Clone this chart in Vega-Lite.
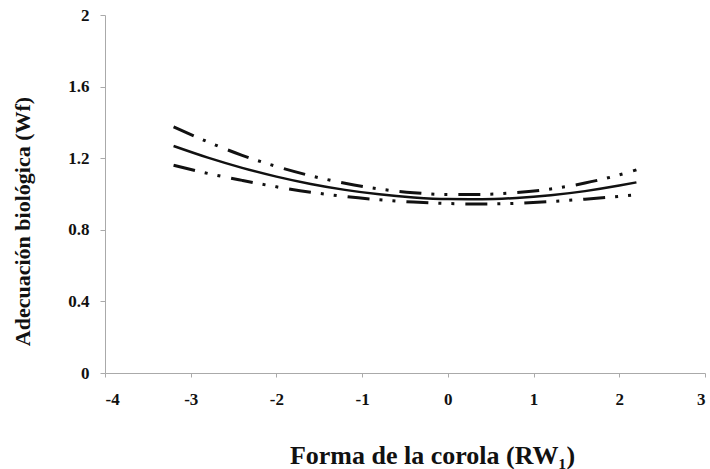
{
  "$schema": "https://vega.github.io/schema/vega-lite/v6.json",
  "autosize": "none",
  "width": 600,
  "height": 358,
  "padding": {"left": 105, "top": 15, "right": 5, "bottom": 96},
  "background": "white",
  "config": {"view": {"stroke": null}, "font": "Liberation Serif"},
  "data": {"values": [
    {"x": -3.2, "y": 1.268, "s": "fit"},
    {"x": -2.8, "y": 1.203, "s": "fit"},
    {"x": -2.4, "y": 1.146, "s": "fit"},
    {"x": -2.0, "y": 1.097, "s": "fit"},
    {"x": -1.6, "y": 1.056, "s": "fit"},
    {"x": -1.2, "y": 1.023, "s": "fit"},
    {"x": -0.8, "y": 0.998, "s": "fit"},
    {"x": -0.4, "y": 0.981, "s": "fit"},
    {"x": 0.0, "y": 0.972, "s": "fit"},
    {"x": 0.4, "y": 0.971, "s": "fit"},
    {"x": 0.8, "y": 0.978, "s": "fit"},
    {"x": 1.2, "y": 0.993, "s": "fit"},
    {"x": 1.6, "y": 1.016, "s": "fit"},
    {"x": 2.0, "y": 1.047, "s": "fit"},
    {"x": 2.2, "y": 1.065, "s": "fit"},
    {"x": -3.2, "y": 1.375, "s": "upper"},
    {"x": -2.8, "y": 1.291, "s": "upper"},
    {"x": -2.4, "y": 1.216, "s": "upper"},
    {"x": -2.0, "y": 1.154, "s": "upper"},
    {"x": -1.6, "y": 1.102, "s": "upper"},
    {"x": -1.2, "y": 1.060, "s": "upper"},
    {"x": -0.8, "y": 1.028, "s": "upper"},
    {"x": -0.4, "y": 1.007, "s": "upper"},
    {"x": 0.0, "y": 0.997, "s": "upper"},
    {"x": 0.4, "y": 0.998, "s": "upper"},
    {"x": 0.8, "y": 1.008, "s": "upper"},
    {"x": 1.2, "y": 1.028, "s": "upper"},
    {"x": 1.6, "y": 1.061, "s": "upper"},
    {"x": 2.0, "y": 1.107, "s": "upper"},
    {"x": 2.2, "y": 1.135, "s": "upper"},
    {"x": -3.2, "y": 1.161, "s": "lower"},
    {"x": -2.8, "y": 1.115, "s": "lower"},
    {"x": -2.4, "y": 1.076, "s": "lower"},
    {"x": -2.0, "y": 1.040, "s": "lower"},
    {"x": -1.6, "y": 1.010, "s": "lower"},
    {"x": -1.2, "y": 0.986, "s": "lower"},
    {"x": -0.8, "y": 0.968, "s": "lower"},
    {"x": -0.4, "y": 0.955, "s": "lower"},
    {"x": 0.0, "y": 0.947, "s": "lower"},
    {"x": 0.4, "y": 0.944, "s": "lower"},
    {"x": 0.8, "y": 0.948, "s": "lower"},
    {"x": 1.2, "y": 0.958, "s": "lower"},
    {"x": 1.6, "y": 0.971, "s": "lower"},
    {"x": 2.0, "y": 0.987, "s": "lower"},
    {"x": 2.2, "y": 0.995, "s": "lower"}
  ]},
  "encoding": {
    "x": {
      "field": "x", "type": "quantitative",
      "scale": {"domain": [-4, 3], "nice": false, "zero": false},
      "axis": {
        "values": [-4, -3, -2, -1, 0, 1, 2, 3],
        "labelExpr": "datum.value < 0 ? '-' + abs(datum.value) : '' + datum.value",
        "grid": false,
        "domainColor": "#aaaaaa",
        "tickColor": "#aaaaaa",
        "tickSize": 4,
        "labelFont": "Liberation Serif",
        "labelFontWeight": "bold",
        "labelFontSize": 17,
        "labelColor": "#111111",
        "labelPadding": 14,
        "title": "Forma de la corola (RW₁)",
        "titleFont": "Liberation Serif",
        "titleFontWeight": "bold",
        "titleFontSize": 26,
        "titleColor": "#111111",
        "titleX": 327,
        "titleY": 82,
        "titleBaseline": "middle"
      }
    },
    "y": {
      "field": "y", "type": "quantitative",
      "scale": {"domain": [0, 2], "nice": false},
      "axis": {
        "values": [0, 0.4, 0.8, 1.2, 1.6, 2],
        "format": "~g",
        "grid": false,
        "domainColor": "#aaaaaa",
        "tickColor": "#aaaaaa",
        "tickSize": 5,
        "labelFont": "Liberation Serif",
        "labelFontWeight": "bold",
        "labelFontSize": 17,
        "labelColor": "#111111",
        "labelPadding": 11,
        "title": "Adecuación biológica (Wf)",
        "titleFont": "Liberation Serif",
        "titleFontWeight": "bold",
        "titleFontSize": 22,
        "titleColor": "#111111",
        "titleAngle": -90,
        "titleX": -83,
        "titleY": 206,
        "titleAlign": "center",
        "titleBaseline": "middle"
      }
    }
  },
  "layer": [
    {
      "transform": [{"filter": "datum.s === 'fit'"}],
      "mark": {"type": "line", "color": "#111111", "strokeWidth": 2.5, "interpolate": "monotone"},
      "encoding": {"detail": {"field": "s"}}
    },
    {
      "transform": [{"filter": "datum.s !== 'fit'"}],
      "mark": {"type": "line", "color": "#111111", "strokeWidth": 3, "interpolate": "monotone", "strokeDash": [22, 10, 3, 10, 3, 11]},
      "encoding": {"detail": {"field": "s"}}
    }
  ]
}
